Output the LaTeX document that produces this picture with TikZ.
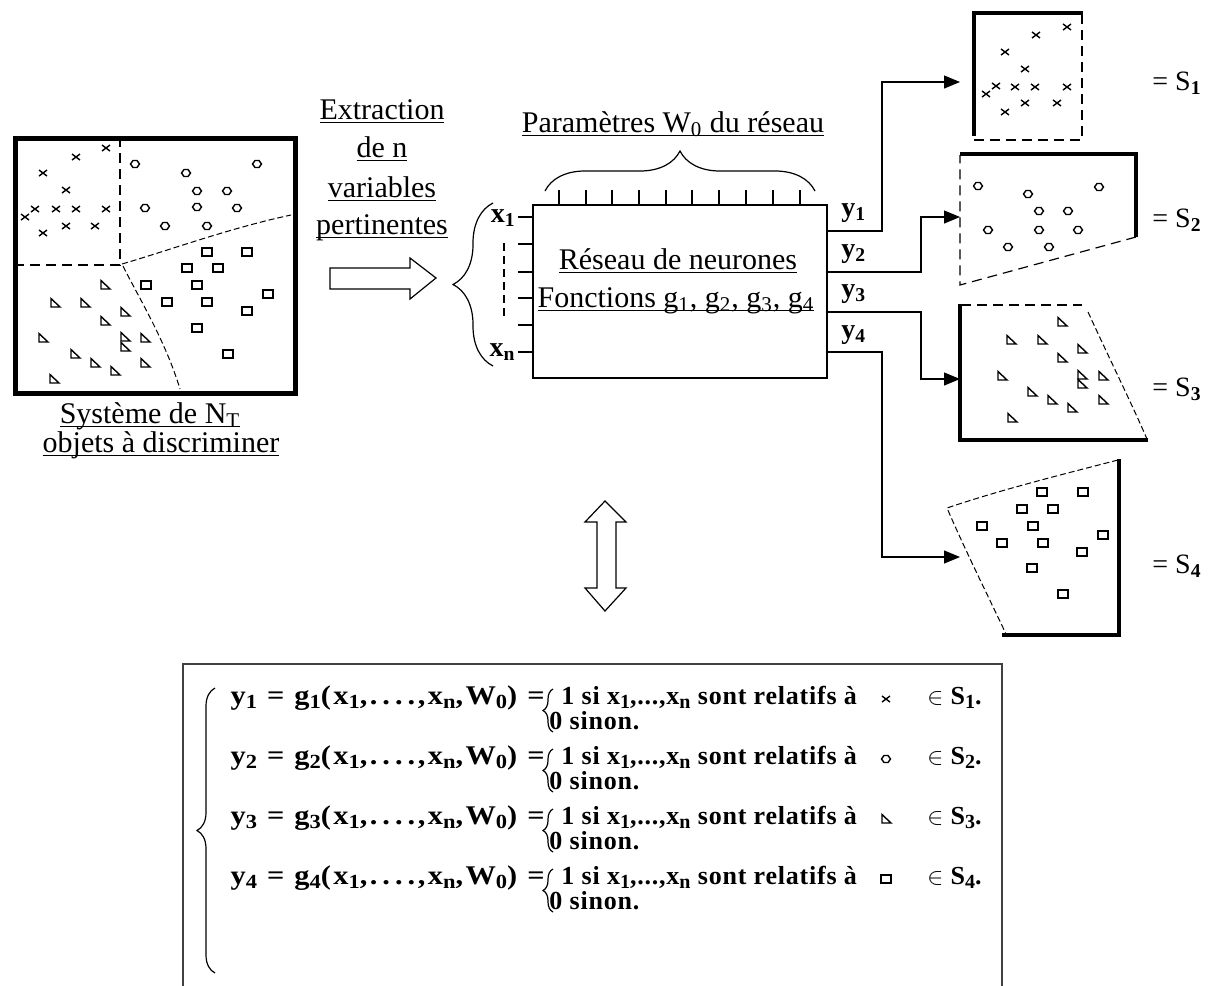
\documentclass[tikz,border=0pt]{standalone}
\usepackage{fontspec}
\usepackage{graphicx}
\setmainfont{Liberation Serif}
\newfontfamily\fmlfont[LetterSpace=3]{Liberation Serif}
\newfontfamily\eqfont[LetterSpace=8]{Liberation Serif}
\usetikzlibrary{arrows.meta,decorations.pathreplacing,calc}
\newcommand{\ulin}[1]{\setbox0=\hbox{#1}\rlap{\rule[-2pt]{\wd0}{0.6pt}}\box0}
\newcommand{\sbs}[1]{\raisebox{-2pt}{\fontsize{10}{10}\selectfont #1}}
\tikzset{
  lbl/.style={font=\fontsize{15}{18}\selectfont, inner sep=0pt, anchor=base},
  fml/.style={font=\fontsize{13}{16}\selectfont\fmlfont\bfseries, inner sep=0pt, anchor=base west},
  eqn/.style={font=\fontsize{13.5}{16}\selectfont\eqfont\bfseries, inner sep=0pt, anchor=base east},
  iolbl/.style={font=\fontsize{14}{16}\selectfont\bfseries, inner sep=0pt},
  slbl/.style={font=\fontsize{14}{16}\selectfont, inner sep=0pt, anchor=base west},
  thinl/.style={line width=0.6pt},
  thickb/.style={line width=2pt},
  dsh/.style={line width=0.6pt, dash pattern=on 5pt off 3pt},
  dshf/.style={line width=0.5pt, dash pattern=on 3pt off 1.5pt},
  mk/.style={line width=0.7pt},
  conn/.style={line width=0.6pt, -{Triangle[length=8pt,width=6.5pt]}},
  crs/.pic={\draw[mk] (-4,-3)--(4,3) (-4,3)--(4,-3);},
  dia/.pic={\draw[mk] (-4.5,0)--(-2,-3.5)--(2,-3.5)--(4.5,0)--(2,3.5)--(-2,3.5)--cycle;},
  sqr/.pic={\draw[mk] (-5,-4) rectangle (5,4);},
  tri/.pic={\draw[mk] (-4,-4.5)--(-4,4)--(5,4)--cycle;},
}
\begin{document}
\begin{tikzpicture}[x=0.5pt,y=-0.5pt]
\useasboundingbox (0,0) rectangle (1208,985);

% ---------- left system box ----------
\node[draw, line width=2.5pt, minimum width=140pt, minimum height=127.75pt, inner sep=0pt, anchor=north west] (sys) at (12.5,135.5) {};
\draw[dsh] (120,137) -- (120,265) -- (14,265);
\draw[dshf] (122,264) .. controls (170,250) and (230,228) .. (291,215);
\draw[dshf] (123,266) .. controls (140,300) and (165,340) .. (180,389);
\foreach \x/\y in {106/148,76/157,43/173,66/190,25/217,35/209,56/209,76/209,106/209,43/233,66/226,95/226} \pic at (\x,\y) {crs};
\foreach \x/\y in {135/164,186/173,257/164,197/191,227/191,145/208,197/207,237/208,165/226,207/226} \pic at (\x,\y) {dia};
\foreach \x/\y in {207/252,247/252,187/268,218/268,146/285,197/285,268/294,167/302,207/302,247/311,197/328,228/354} \pic at (\x,\y) {sqr};
\foreach \x/\y in {105/285,55/303,85/303,125/312,105/321,43/338,125/337,125/347,145/338,75/354,95/363,115/371,145/363,54/379} \pic at (\x,\y) {tri};
\node[lbl] (sysa) at (150,423) {\ulin{Système de N\textsubscript{T}}};
\node[lbl] (sysb) at (161,452) {\ulin{objets à discriminer}};

% ---------- extraction ----------
\node[lbl] (ex1) at (382,119) {\ulin{Extraction}};
\node[lbl] (ex2) at (382,157) {\ulin{de n}};
\node[lbl] (ex3) at (382,197) {\ulin{variables}};
\node[lbl] (ex4) at (382,234) {\ulin{pertinentes}};
\draw[thinl] (330,268) -- (410,268) -- (410,258) -- (436,278) -- (410,299) -- (410,289) -- (330,289) -- cycle;
\draw[thinl, decorate, decoration={brace, amplitude=20pt}] (493,366) -- (493,203);

% ---------- network ----------
\node[draw, line width=0.8pt, minimum width=147pt, minimum height=86.5pt, inner sep=0pt, anchor=north west] (net) at (532,204) {};
\node[lbl] (par) at (673,132) {\ulin{Paramètres W\textsubscript{0} du réseau}};
\draw[thinl, decorate, decoration={brace, amplitude=20pt}] (545,191) -- (815,191);
\foreach \x in {559,586,612,639,666,692,719,746,773,800} \draw[thinl] (\x,190) -- (\x,204);
\node[lbl] (rdn) at (678,269) {\ulin{Réseau de neurones}};
\node[lbl] (fct) at (676,307) {\ulin{Fonctions g\textsubscript{1}, g\textsubscript{2}, g\textsubscript{3}, g\textsubscript{4}}};
\foreach \y in {217,244,272,298,325,352} \draw[thinl] (518,\y) -- (532,\y);
\draw[line width=0.6pt, dash pattern=on 4pt off 2.5pt] (504,243) -- (504,320);
\node[iolbl, anchor=base east] (x1) at (516,222) {x\textsubscript{1}};
\node[iolbl, anchor=base east] (xn) at (516,356) {x\textsubscript{n}};
\node[iolbl, anchor=base west] (ly1) at (841,216) {y\textsubscript{1}};
\node[iolbl, anchor=base west] (ly2) at (841,257) {y\textsubscript{2}};
\node[iolbl, anchor=base west] (ly3) at (841,297) {y\textsubscript{3}};
\node[iolbl, anchor=base west] (ly4) at (841,338) {y\textsubscript{4}};

% output coordinates
\coordinate (o1) at (826,231);
\coordinate (o2) at (826,272);
\coordinate (o3) at (826,312);
\coordinate (o4) at (826,352);
\coordinate (s1in) at (960,82);
\coordinate (s2in) at (960,217);
\coordinate (s3in) at (960,379);
\coordinate (s4in) at (960,557);
\draw[conn] (o1) -- ++(56,0) |- (s1in);
\draw[conn] (o2) -- ++(95,0) |- (s2in);
\draw[conn] (o3) -- ++(95,0) |- (s3in);
\draw[conn] (o4) -- ++(56,0) |- (s4in);

% ---------- right boxes ----------
\draw[thickb] (974,136) -- (974,13) -- (1083,13);
\draw[dsh] (1082,14) -- (1082,140) -- (974,140);
\foreach \x/\y in {1067/27,1036/35,1005/52,1025/69,986/94,996/86,1015/87,1035/87,1067/87,1005/112,1025/103,1057/103} \pic at (\x,\y) {crs};
\node[slbl] (S1) at (1152,90) {= S\textsubscript{\textbf{1}}};

\draw[thickb] (960,154) -- (1136,154) -- (1136,237);
\draw[dsh] (1136,237) -- (960,285) -- (960,155);
\foreach \x/\y in {978/186,1028/194,1099/187,1039/211,1068/211,988/230,1039/230,1078/230,1008/247,1049/247} \pic at (\x,\y) {dia};
\node[slbl] (S2) at (1152,227) {= S\textsubscript{\textbf{2}}};

\draw[thickb] (960,304) -- (960,440) -- (1148,440);
\draw[dsh] (961,305) -- (1082,305);
\draw[dshf] (1088,312) .. controls (1110,360) and (1130,400) .. (1147,439);
\foreach \x/\y in {1062/322,1011/340,1042/340,1082/349,1062/358,1002/376,1082/375,1082/384,1103/376,1032/392,1052/400,1072/408,1103/400,1012/418} \pic at (\x,\y) {tri};
\node[slbl] (S3) at (1152,396) {= S\textsubscript{\textbf{3}}};

\draw[thickb] (1119,459) -- (1119,635) -- (1002,635);
\draw[dshf] (1118,460) .. controls (1060,475) and (1000,490) .. (947,508) .. controls (965,550) and (990,600) .. (1006,634);
\foreach \x/\y in {1042/492,1083/492,1022/509,1053/509,982/526,1033/526,1103/535,1002/543,1043/543,1082/552,1032/568,1063/594} \pic at (\x,\y) {sqr};
\node[slbl] (S4) at (1152,573) {= S\textsubscript{\textbf{4}}};

% ---------- double arrow ----------
\draw[thinl] (605,501) -- (626,522) -- (616,522) -- (616,588) -- (626,588) -- (605,611) -- (585,588) -- (597,588) -- (597,522) -- (585,522) -- cycle;

% ---------- formula box ----------
\draw[line width=0.8pt, draw=black!75] (183,995) -- (183,664) -- (1002,664) -- (1002,995);
\draw[thinl, decorate, decoration={brace, amplitude=9pt}] (215,973) -- (215,688);
\foreach \i/\yb/\m in {1/704/crs,2/764/dia,3/824/tri,4/884/sqr}{
  \node[eqn] (eq\i) at (545,\yb) {\resizebox{157pt}{\height}{y\sbs{\i} = g\sbs{\i}(x\sbs{1},.\,.\,.\,.,x\sbs{n},W\sbs{0}) =}};
  \draw[thinl, decorate, decoration={brace, amplitude=5pt}] (553,\yb+28) -- (553,\yb-15);
  \node[fml] (un\i) at (561,\yb) {1 si x\sbs{1},...,x\sbs{n} sont relatifs à};
  \pic at (886,\yb-5) {\m};
  \node[fml] (in\i) at (927,\yb) {{\mdseries$\in$} S\sbs{\i}.};
  \node[fml] (ze\i) at (549,\yb+25) {0 sinon.};
}
\end{tikzpicture}
\end{document}
